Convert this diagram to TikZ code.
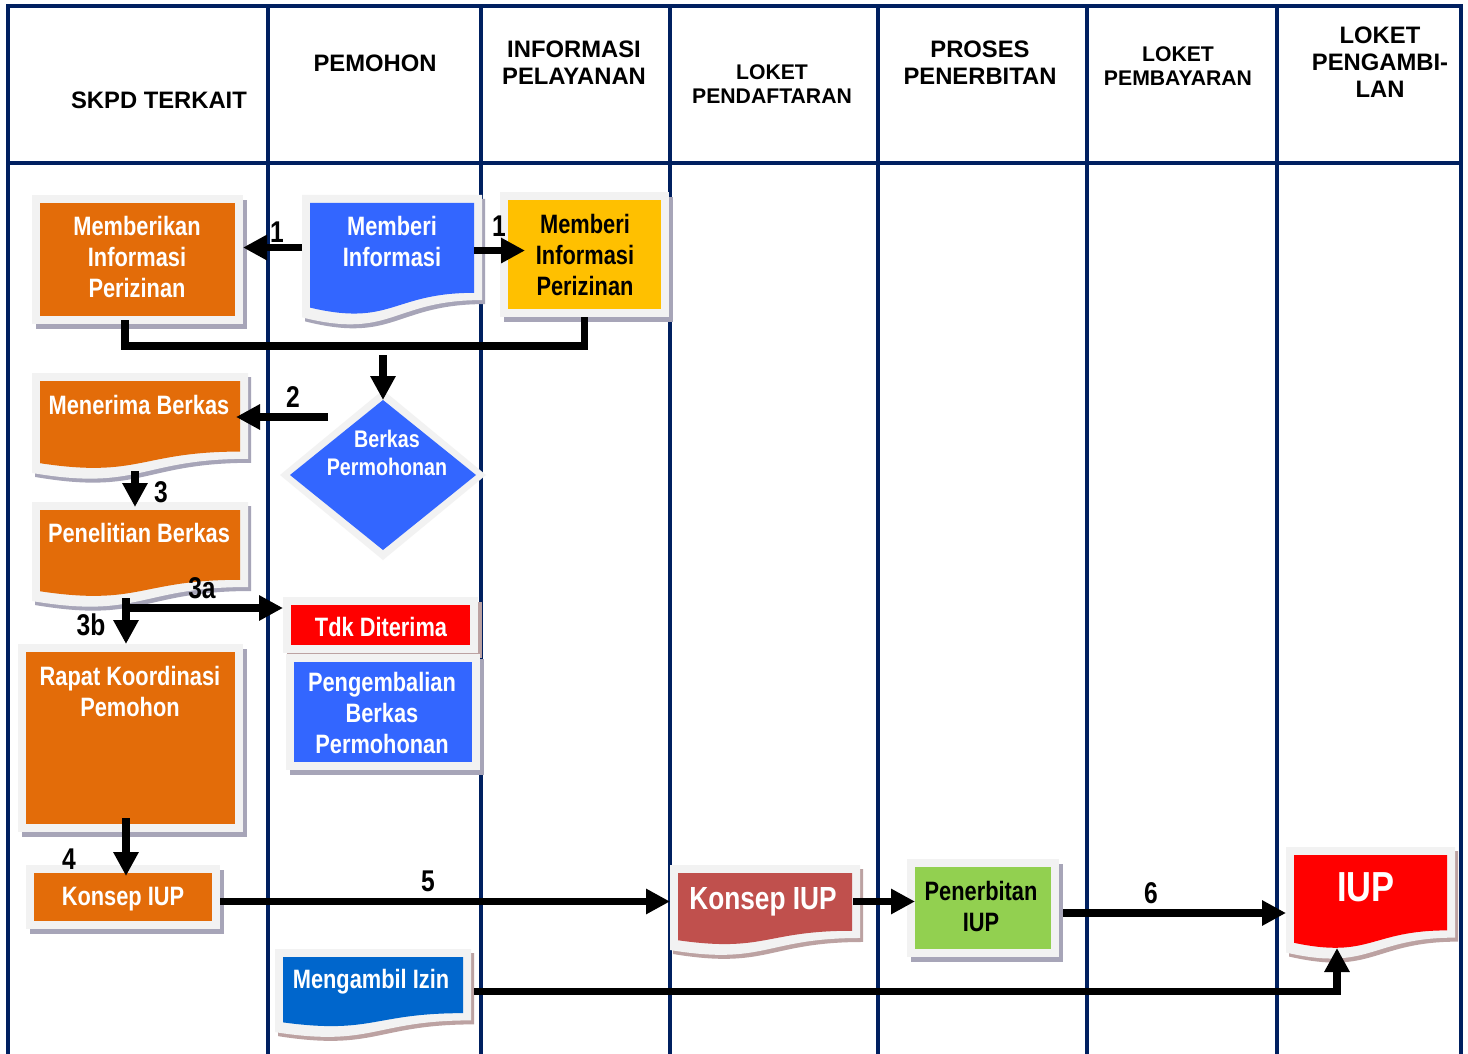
\documentclass[tikz,border=0pt]{standalone}
\usepackage{fontspec}
\setmainfont{Liberation Sans}
\newfontfamily\nar[FakeStretch=0.82]{Liberation Sans}
\usetikzlibrary{arrows.meta,shapes.geometric,calc}
\definecolor{navy}{HTML}{002060}
\definecolor{frm}{HTML}{F2F2F2}
\definecolor{shd}{HTML}{A7A5B8}
\definecolor{shdr}{HTML}{BCA2A2}
\definecolor{org}{HTML}{E36C09}
\definecolor{blu}{HTML}{3366FF}
\definecolor{ylw}{HTML}{FFC000}
\definecolor{rd}{HTML}{FF0000}
\definecolor{brn}{HTML}{C0504D}
\definecolor{grn}{HTML}{92D050}
\definecolor{dblu}{HTML}{0066CC}
% document box: [shadow]{name}{x1}{y1}{x2}{H}
\newcommand\dbox[6][shd]{%
  \fill[#1,shift={(3,4)}] (#3,#4) -- (#5,#4) -- (#5,{#4+0.802*#6}) .. controls ({(#3+#5)/2},{#4+0.802*#6}) and ({(#3+#5)/2},{#4+1.107*#6}) .. (#3,{#4+0.934*#6}) -- cycle;
  \fill[frm] (#3,#4) -- (#5,#4) -- (#5,{#4+0.802*#6}) .. controls ({(#3+#5)/2},{#4+0.802*#6}) and ({(#3+#5)/2},{#4+1.107*#6}) .. (#3,{#4+0.934*#6}) -- cycle;
  \node[inner sep=0pt,outer sep=0pt,minimum width={(#5-#3)*0.5pt},minimum height={0.802*#6*0.5pt}] (#2) at ({(#3+#5)/2},{#4+0.401*#6}) {};
}
\newcommand\dfill[5]{% {x1}{y1}{x2}{H}{fill} inner
  \fill[#5] (#1+8,#2+8) -- (#3-8,#2+8) -- (#3-8,{#2+8+0.802*(#4-19)}) .. controls ({(#1+#3)/2},{#2+8+0.802*(#4-19)}) and ({(#1+#3)/2},{#2+8+1.107*(#4-19)}) .. (#1+8,{#2+8+0.934*(#4-19)}) -- cycle;
}
\newcommand\rnode[5]{% {name}{x1}{y1}{x2}{y2}
  \node[inner sep=0pt,outer sep=0pt,minimum width={(#4-#2)*0.5pt},minimum height={(#5-#3)*0.5pt}] (#1) at ({(#2+#4)/2},{(#3+#5)/2}) {};
}
\newcommand\rfill[6][shd]{% [shadow]{x1}{y1}{x2}{y2}{fill}
  \fill[#1] (#2+4,#3+5) rectangle (#4+4,#5+5);
  \fill[frm] (#2,#3) rectangle (#4,#5);
  \fill[#6] (#2+8,#3+8) rectangle (#4-8,#5-8);
}
\begin{document}
\begin{tikzpicture}[x=0.5pt,y=-0.5pt,
  tbl/.style={draw=navy,line width=1.6pt},
  hdr/.style={font=\bfseries\fontsize{11.9}{13.5}\selectfont,align=center,inner sep=0pt},
  hdrs/.style={font=\bfseries\fontsize{10.6}{12}\selectfont,align=center,inner sep=0pt},
  btxt/.style={font=\nar\bfseries\fontsize{13.3}{15.5}\selectfont,text=white,align=center,inner sep=0pt},
  lbl/.style={font=\nar\bfseries\fontsize{15}{15}\selectfont,inner sep=0pt},
  conn/.style={line width=3.75pt},
  arr/.style={line width=3.75pt,-{Triangle[length=12pt,width=12pt]}},
]
\useasboundingbox (0,0) rectangle (1468,1054);
\fill[white] (0,0) rectangle (1468,1054);
% table
\draw[tbl] (8,1054) -- (8,6) -- (1461,6) -- (1461,1054);
\draw[tbl] (8,163) -- (1461,163);
\foreach \x in {268,481,670,878,1087,1277} \draw[tbl] (\x,6) -- (\x,1054);
% headers
\node[hdr] (h1) at (159,100) {SKPD TERKAIT};
\node[hdr] (h2) at (375,63) {PEMOHON};
\node[hdr] (h3) at (574,62.5) {INFORMASI\\PELAYANAN};
\node[hdrs] (h4) at (772,84) {LOKET\\PENDAFTARAN};
\node[hdr] (h5) at (980,62.5) {PROSES\\PENERBITAN};
\node[hdrs] (h6) at (1178,66) {LOKET\\PEMBAYARAN};
\node[hdr] (h7) at (1380,62.5) {LOKET\\PENGAMBI-\\LAN};
% boxes
\rfill{32}{195}{243}{324}{org}\rnode{mbk}{32}{195}{243}{324}
\dbox{mbi}{302}{195}{482}{131}\dfill{302}{195}{482}{131}{blu}
\rfill{500}{192}{669}{317}{ylw}\rnode{yl}{500}{192}{669}{317}
\dbox{mnb}{32}{373}{248}{107}\dfill{32}{373}{248}{107}{org}
\fill[frm] (383,390) -- (486,475) -- (383,560) -- (280,475) -- cycle;
\node[diamond,fill=blu,minimum width=93pt,minimum height=75pt,inner sep=0pt,outer sep=0pt] (dia) at (383,475) {};
\dbox{pb}{32}{502}{248}{106}\dfill{32}{502}{248}{106}{org}
\rfill[shdr]{283}{597}{478}{653}{rd}\rnode{tdk}{283}{597}{478}{653}
\rfill{286}{654}{480}{770}{blu}\rnode{pgb}{286}{654}{480}{770}
\rfill{18}{644}{243}{832}{org}\rnode{rk}{18}{644}{243}{832}
\rfill{26}{865}{220}{929}{org}\rnode{ko}{26}{865}{220}{929}
\dbox[shdr]{kb}{670}{865}{860}{91}\dfill{670}{865}{860}{91}{brn}
\rfill{907}{859}{1059}{957}{grn}\rnode{pi}{907}{859}{1059}{957}
\dbox[shdr]{iup}{1286}{847}{1455}{113}\dfill{1286}{847}{1455}{113}{rd}
\dbox[shdr]{mgi}{275}{949}{471}{89}\dfill{275}{949}{471}{89}{dblu}
% texts
\node[btxt] (t-mbk) at (137,257) {Memberikan\\Informasi\\Perizinan};
\node[btxt] (t-mbi) at (392,241) {Memberi\\Informasi};
\node[btxt,text=black] (t-yl) at (585,255) {Memberi\\Informasi\\Perizinan};
\node[btxt] (t-mnb) at (139,405) {Menerima Berkas};
\node[btxt,font=\nar\bfseries\fontsize{12}{14}\selectfont] (t-dia) at (387,453) {Berkas\\Permohonan};
\node[btxt] (t-pb) at (139,533) {Penelitian Berkas};
\node[btxt] (t-tdk) at (381,627) {Tdk Diterima};
\node[btxt] (t-pgb) at (382,713) {Pengembalian\\Berkas\\Permohonan};
\node[btxt] (t-rk) at (130,691) {Rapat Koordinasi\\Pemohon};
\node[btxt] (t-ko) at (123,899) {Konsep IUP};
\node[btxt,font=\nar\bfseries\fontsize{16}{18}\selectfont] (t-kb) at (763,902) {Konsep IUP};
\node[btxt,text=black] (t-pi) at (981,906.5) {Penerbitan\\IUP};
\node[btxt,font=\nar\bfseries\fontsize{21}{22}\selectfont] (t-iup) at (1366,887) {IUP};
\node[btxt] (t-mgi) at (371,982) {Mengambil Izin};
% labels
\node[lbl] (l1a) at (277,232) {1};
\node[lbl] (l1b) at (499,226) {1};
\node[lbl] (l2) at (293,397) {2};
\node[lbl] (l3) at (161,492) {3};
\node[lbl] (l3a) at (202,588) {3a};
\node[lbl] (l3b) at (91,625) {3b};
\node[lbl] (l4) at (69,859) {4};
\node[lbl] (l5) at (428,881) {5};
\node[lbl] (l6) at (1151,893) {6};
% connectors
\coordinate (jb) at (383,346);
\coordinate (jd) at (383,355);
\coordinate (c2) at (328,417);
\coordinate (j3) at (126,598);
\coordinate (j3a) at (126,608);
\coordinate (iupb) at (1337,948);
\draw[arr] (mbi.west) -- (mbi.west -| mbk.east);
\draw[arr] ($(mbi.east)+(-8,3)$) -- ($(mbi.east -| yl.west)+(25,3)$);
\draw[conn] ($(mbk.south)+(-12.5,-4)$) |- (jb) -| (yl.south);
\draw[arr] (jd) -- (dia.north);
\draw[arr] (c2) -- ($(c2 -| mnb.east)+(-12,0)$);
\draw[arr] ($(mnb.south)+(-5,12)$) -- ($(pb.north)+(-5,5)$);
\draw[arr] (j3) -- (j3 |- rk.north);
\draw[arr] (j3a) -- (j3a -| tdk.west);
\draw[arr] ($(rk.south)+(-4.5,-14)$) -- ($(ko.north)+(3,11)$);
\draw[arr] (kb.west -| ko.east) -- (kb.west);
\draw[arr] ($(kb.east)+(-7,0)$) -- ($(kb.east -| pi.west)+(8,0)$);
\draw[arr] ($(pi.east)+(4,5)$) -- ($(pi.east -| iup.west)+(0,5)$);
\draw[arr] ($(mgi.east)+(3,7)$) -| (iupb);
\end{tikzpicture}
\end{document}
